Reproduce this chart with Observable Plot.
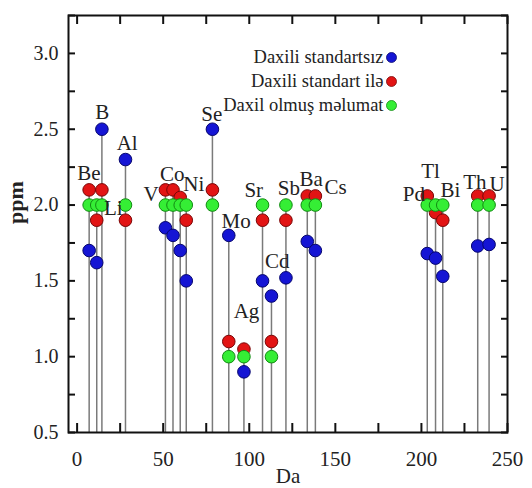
<!DOCTYPE html>
<html>
<head>
<meta charset="utf-8">
<script src="https://cdn.jsdelivr.net/npm/d3@7"></script>
<script src="https://cdn.jsdelivr.net/npm/@observablehq/plot@0.6"></script>
<style>
  body { margin: 0; background: white; }
</style>
</head>
<body>
<div id="chart"></div>
<script>
// Mass positions (Da) of each stem
const stemDa = [7, 11.4, 14.4, 28.1, 51.3, 55.7, 59.9, 63.4, 78.6, 88.1, 96.9, 107.7, 112.9, 121.3, 133.7, 138.4, 203.4, 208.2, 212.4, 232.7, 239.3];
// Series values (ppm)
const blueVals  = [1.70, 1.62, 2.50, 2.30, 1.85, 1.80, 1.70, 1.50, 2.50, 1.80, 0.90, 1.50, 1.40, 1.52, 1.76, 1.70, 1.68, 1.65, 1.53, 1.73, 1.74];
const redVals   = [2.10, 1.90, 2.10, 1.90, 2.10, 2.10, 2.05, 1.90, 2.10, 1.10, 1.05, 1.90, 1.10, 1.90, 2.06, 2.06, 2.06, 1.95, 1.90, 2.06, 2.06];
const greenVals = [2.00, 2.00, 2.00, 2.00, 2.00, 2.00, 2.00, 2.00, 2.00, 1.00, 1.00, 2.00, 1.00, 2.00, 2.00, 2.00, 2.00, 2.00, 2.00, 2.00, 2.00];
// Element labels and their anchor points (Da, ppm)
const labelText = ["Be", "B", "Li", "Al", "V", "Co", "Ni", "Se", "Mo", "Ag", "Sr", "Cd", "Sb", "Ba", "Cs", "Pd", "Tl", "Bi", "Th", "U"];
const labelDa   = [6.8, 14.6, 21.0, 29.1, 43.0, 55.2, 67.8, 78.2, 92.4, 98.4, 102.6, 116.2, 123.0, 136.0, 150.1, 195.6, 205.3, 216.9, 231.0, 244.0];
const labelPpm  = [2.21, 2.61, 1.98, 2.41, 2.07, 2.20, 2.14, 2.60, 1.89, 1.30, 2.10, 1.63, 2.11, 2.17, 2.12, 2.07, 2.22, 2.10, 2.15, 2.14];
// Series names
const seriesNames = ["Daxili standartsız", "Daxili standart ilə", "Daxil olmuş məlumat"];
// Tick values
const xTickLabels = [0, 50, 100, 150, 200, 250];
const yTickLabels = [0.5, 1.0, 1.5, 2.0, 2.5, 3.0];
const xMinorTicks = [0, 25, 50, 75, 100, 125, 150, 175, 200, 225, 250];
const yMinorTicks = [0.5, 0.75, 1.0, 1.25, 1.5, 1.75, 2.0, 2.25, 2.5, 2.75, 3.0, 3.25];

const seriesVals = [blueVals, redVals, greenVals];
const fills   = ["#1515d4", "#e21414", "#35ee35"];
const strokes = ["#06066e", "#7a0606", "#128a12"];

const W = 532, H = 488, mL = 68, mR = 25, mT = 15, mB = 56;

const stems = stemDa.map((da, i) => ({da, top: Math.max(blueVals[i], redVals[i], greenVals[i])}));
const labels = labelText.map((t, i) => ({t, x: labelDa[i], y: labelPpm[i]}));
const noText = () => "";

const marks = [
  Plot.ruleX(stems, {x: "da", y1: 0.5, y2: "top", stroke: "#7a7a7a", strokeWidth: 1.5}),
];
seriesVals.forEach((vals, k) => {
  marks.push(Plot.dot(stemDa, {x: d => d, y: (d, i) => vals[i], r: 6.3, fill: fills[k], stroke: strokes[k], strokeWidth: 1}));
});
marks.push(
  Plot.text(labels, {x: "x", y: "y", text: "t", fontSize: 21, fill: "#222"}),
  // inward ticks on all four sides (axis ticks shifted into the frame)
  Plot.axisX({anchor: "bottom", ticks: xMinorTicks, tickSize: 9, dy: -9, tickFormat: noText, label: null, stroke: "#111", strokeWidth: 2}),
  Plot.axisX({anchor: "top", ticks: xMinorTicks, tickSize: 8, dy: 8, tickFormat: noText, label: null, stroke: "#111", strokeWidth: 2}),
  Plot.axisY({anchor: "left", ticks: yMinorTicks, tickSize: 7, dx: 7, tickFormat: noText, label: null, stroke: "#111", strokeWidth: 2}),
  Plot.axisY({anchor: "right", ticks: yMinorTicks, tickSize: 7, dx: -7, tickFormat: noText, label: null, stroke: "#111", strokeWidth: 2}),
  Plot.frame({stroke: "#111", strokeWidth: 2}),
  Plot.axisX({anchor: "bottom", ticks: xTickLabels, tickSize: 0, tickPadding: 19, fontSize: 21, label: null, fill: "#222"}),
  Plot.axisY({anchor: "left", ticks: yTickLabels, tickFormat: d3.format(".1f"), tickSize: 0, tickPadding: 10, fontSize: 20, label: null, fill: "#222"}),
  Plot.text(["Da"], {frameAnchor: "bottom", dy: 44, text: d => d, fontSize: 21, lineAnchor: "middle", fill: "#222"}),
  Plot.text(["ppm"], {frameAnchor: "left", dx: -53, text: d => d, rotate: -90, fontSize: 22, fontWeight: "bold", lineAnchor: "middle", fill: "#222"})
);
seriesNames.forEach((name, k) => {
  const dy = 42 + k * 24;
  marks.push(
    Plot.text([name], {frameAnchor: "top-left", dx: 315, dy, text: d => d, textAnchor: "end", lineAnchor: "middle", fontSize: 18.5, fill: "#222"}),
    Plot.dot([name], {frameAnchor: "top-left", dx: 323, dy, r: 5, fill: fills[k], stroke: strokes[k], strokeWidth: 0.8})
  );
});

const chart = Plot.plot({
  width: W, height: H,
  marginLeft: mL, marginRight: mR, marginTop: mT, marginBottom: mB,
  x: {domain: [-5, 250]},
  y: {domain: [0.5, 3.25]},
  style: {fontFamily: "'Liberation Serif', 'DejaVu Serif', serif", fontSize: "20px", background: "white", overflow: "visible"},
  marks
});
document.getElementById("chart").appendChild(chart);
</script>
</body>
</html>
